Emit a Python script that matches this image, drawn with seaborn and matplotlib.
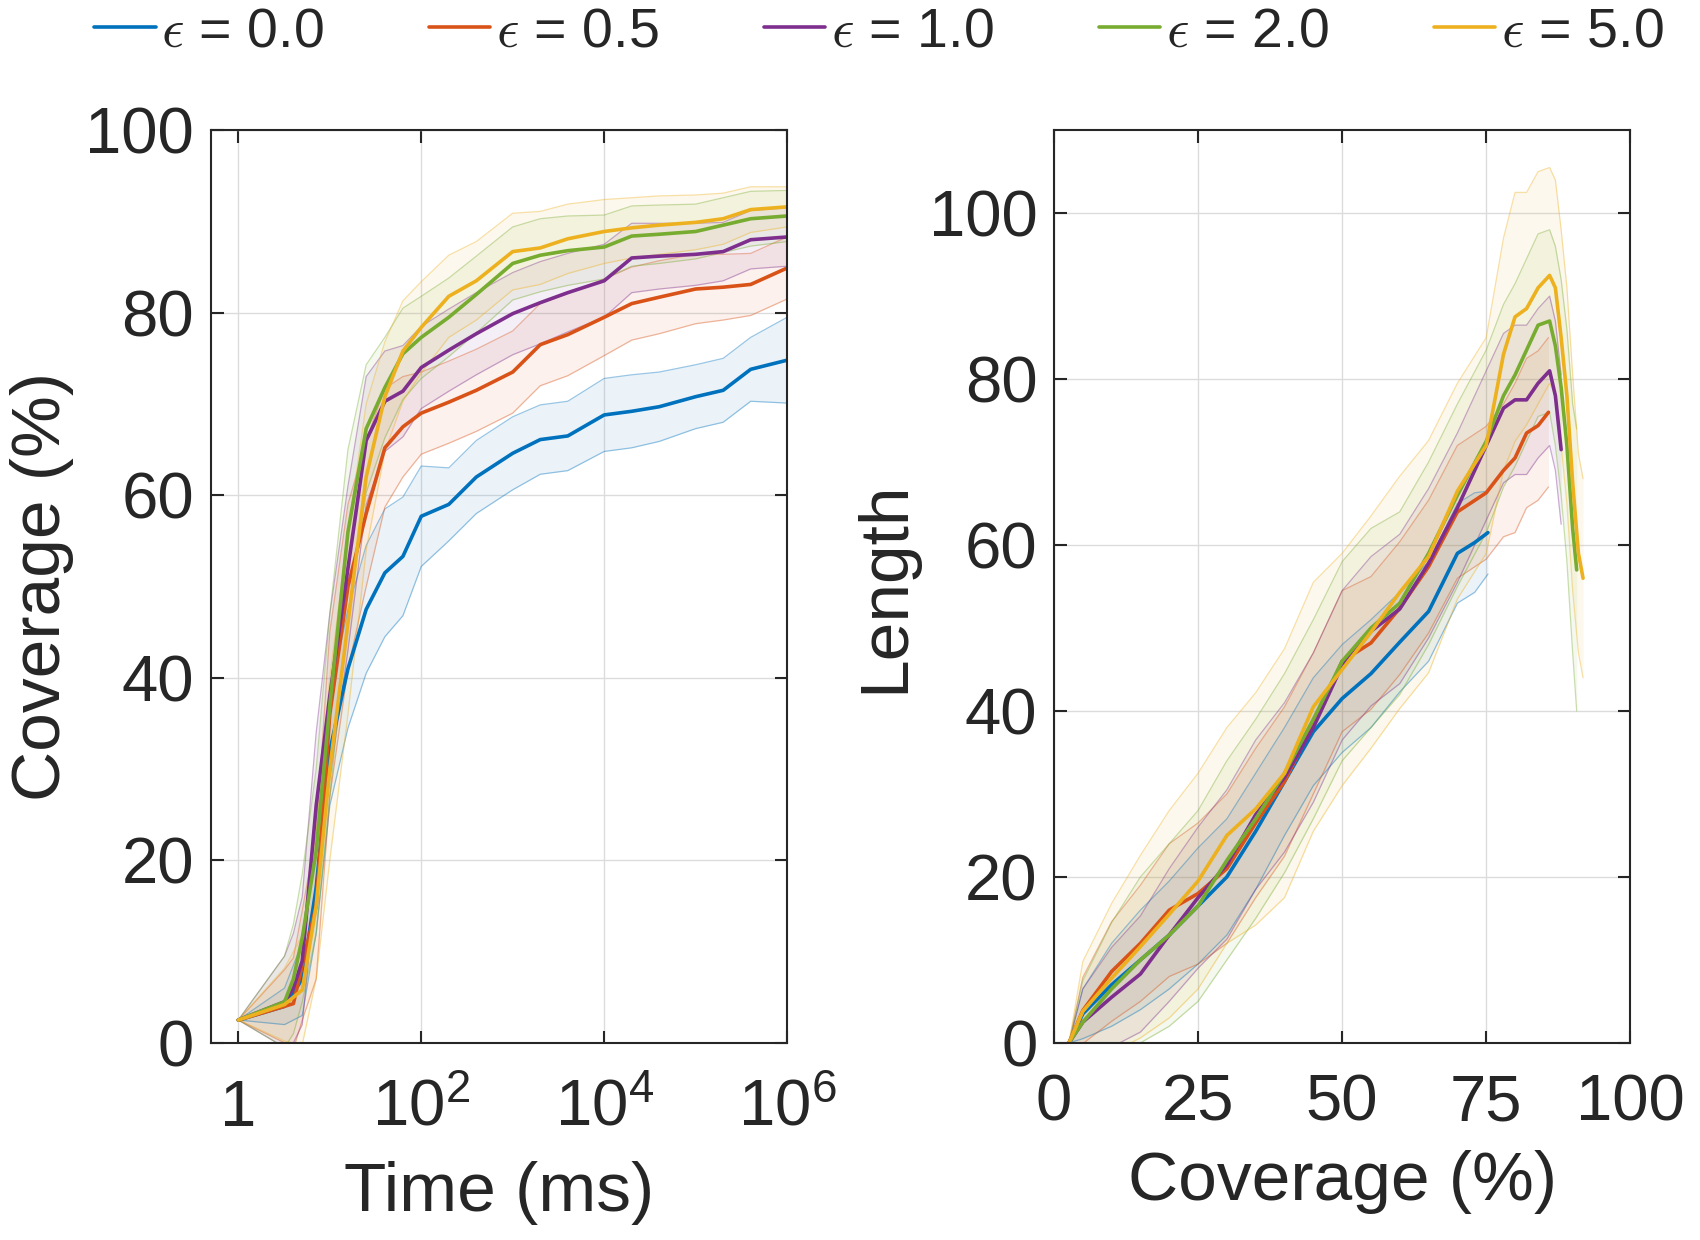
import numpy as np
import pandas as pd
import matplotlib
matplotlib.use('Agg')
import matplotlib.pyplot as plt
import seaborn as sns
from matplotlib.lines import Line2D
from matplotlib.ticker import NullLocator

# --- data ---
eps_labels = ['0.0', '0.5', '1.0', '2.0', '5.0']
colors = ['#0072BD', '#D95319', '#7E2F8E', '#77AC30', '#EDB120']

# left panel: coverage over time (ms), common time grid
time_ms = [1, 3.2, 4, 5, 7.1, 10, 15.8, 25, 40, 63, 100, 200, 400, 1000, 2000,
           4000, 1e4, 2e4, 4e4, 1e5, 2e5, 4e5, 1e6]
cov_mean = {
    '0.0': [2.5, 4, 5.5, 7, 17, 32, 41, 47.5, 51.5, 53.3, 57.7, 59, 62, 64.6, 66.1,
            66.5, 68.8, 69.2, 69.7, 70.8, 71.5, 73.8, 74.8],
    '0.5': [2.5, 4, 4.3, 8.5, 15, 36, 50, 58, 65.2, 67.5, 69, 70.2, 71.5, 73.5, 76.5,
            77.6, 79.5, 81, 81.7, 82.6, 82.8, 83.1, 84.9],
    '1.0': [2.5, 4.5, 6, 9, 26, 38, 52, 66, 70.3, 71.4, 74, 75.9, 77.7, 79.9, 81.1,
            82.2, 83.5, 86, 86.2, 86.4, 86.7, 88, 88.3],
    '2.0': [2.5, 4.5, 7, 11.5, 21, 37, 56, 67.3, 71.8, 75.5, 77.3, 79.5, 82, 85.4, 86.3,
            86.8, 87.2, 88.4, 88.6, 88.9, 89.6, 90.3, 90.6],
    '5.0': [2.5, 4.2, 5, 5.8, 15, 30, 46, 62, 70.8, 75.8, 78.4, 81.8, 83.5, 86.7, 87.1,
            88.1, 88.9, 89.3, 89.6, 89.9, 90.3, 91.3, 91.6],
}
cov_spread = {
    '0.0': [0, 2, 3, 4, 5, 6, 6.5, 7, 7, 6.5, 5.5, 4, 4, 4, 3.8, 3.8, 4, 4, 3.8, 3.5, 3.5, 3.5, 4.7],
    '0.5': [0, 4, 5, 6, 8, 9, 9, 8, 6.5, 5.5, 4.5, 4.5, 4.5, 4.5, 4.5, 4.5, 4.2, 4, 4, 3.8, 3.6, 3.4, 3.4],
    '1.0': [0, 5, 6, 7, 8, 9, 9, 7, 5.5, 5, 4.5, 4.5, 4.5, 4.5, 4.5, 4.3, 4, 3.8, 3.6, 3.4, 3.2, 3.2, 3.2],
    '2.0': [0, 5, 6, 7, 9, 10, 9, 7, 5.5, 5, 4.5, 4.3, 4.2, 4, 4, 3.8, 3.5, 3.3, 3.2, 3, 3, 3, 2.8],
    '5.0': [0, 4, 5, 6, 8, 10, 10, 8, 6, 5.5, 5, 4.5, 4.3, 4.2, 4, 3.8, 3.5, 3.3, 3.2, 3, 2.8, 2.5, 2.2],
}

# right panel: length over coverage (%)
len_cov = {
    '0.0': [2.6, 5, 10, 15, 20, 25, 30, 35, 40, 45, 50, 55, 60, 65, 70, 73, 75.3],
    '0.5': [2.6, 5, 10, 15, 20, 25, 30, 35, 40, 45, 50, 55, 60, 65, 70, 75, 78, 80, 82, 84, 85.8],
    '1.0': [2.6, 5, 10, 15, 20, 25, 30, 35, 40, 45, 50, 55, 60, 65, 70, 75, 78, 80, 82, 84, 86, 87, 88],
    '2.0': [2.6, 5, 10, 15, 20, 25, 30, 35, 40, 45, 50, 55, 60, 65, 70, 75, 78, 80, 82, 84, 86, 87,
            88, 89, 90, 90.7],
    '5.0': [2.6, 5, 10, 15, 20, 25, 30, 35, 40, 45, 50, 55, 60, 65, 70, 75, 78, 80, 82, 84, 86, 87,
            88, 89, 90, 91, 91.8],
}
len_mean = {
    '0.0': [0, 3.5, 7, 10, 13, 16.5, 20, 25.5, 31.5, 37.5, 41.5, 44.5, 48.3, 52, 59, 60.3, 61.5],
    '0.5': [0, 3.9, 8.6, 12, 16, 18, 21, 26.5, 31.5, 38.5, 46, 48.2, 52.4, 57.4, 64, 66.3, 69,
            70.5, 73.5, 74.4, 76],
    '1.0': [0, 2.5, 5.5, 8.3, 13, 17.5, 21.5, 27.5, 32, 38, 45.5, 49.6, 52.3, 57.8, 64.5, 72,
            76.5, 77.5, 77.5, 79.5, 81, 78, 71.5],
    '2.0': [0, 2.5, 6.5, 10, 13, 16.5, 22, 27, 32.5, 39, 46, 50, 53, 59, 66, 72.5, 78, 80.5,
            83.5, 86.5, 87, 84, 79, 72, 62, 57],
    '5.0': [0, 3.8, 7.8, 11.6, 15.5, 19.5, 25, 28.2, 32.5, 40.5, 45, 49.5, 54.3, 58.6, 66.5, 72,
            83, 87.5, 88.5, 91, 92.5, 91, 85, 78, 67.5, 59, 56],
}
len_spread = {
    '0.0': [0, 3, 5, 6, 6.5, 7, 7, 7, 6.5, 6.5, 6.5, 6.5, 6, 6, 6, 6, 5],
    '0.5': [0, 4, 6, 7, 8, 8.5, 9, 9, 9, 8.5, 8.5, 8, 8, 8, 8, 8, 8, 9, 9, 9, 9],
    '1.0': [0, 4, 6, 7, 8, 8.5, 9, 9, 9, 9, 9, 9, 9, 9, 9, 9, 9, 9, 9, 9, 9, 9, 9],
    '2.0': [0, 5, 8, 10, 11, 11.5, 12, 12, 12, 12, 12, 12, 11, 11, 11, 11, 11, 11, 11, 11, 11,
            12, 13, 14, 15, 17],
    '5.0': [0, 6, 9, 11, 12.5, 13, 13, 14, 15, 15, 14, 14, 14, 14, 13, 13, 14, 15, 14, 14, 13,
            13, 13, 13, 13, 12, 12],
}

# --- long tables for seaborn ---
left_rows = []
right_rows = []
for e in eps_labels:
    for t, m in zip(time_ms, cov_mean[e]):
        left_rows.append({'eps': e, 'time': t, 'cov': m})
    for c, m in zip(len_cov[e], len_mean[e]):
        right_rows.append({'eps': e, 'cov': c, 'len': m})
df_left = pd.DataFrame(left_rows)
df_right = pd.DataFrame(right_rows)
palette = dict(zip(eps_labels, colors))

sns.set_theme(style='whitegrid')
plt.rcParams['font.family'] = ['Liberation Sans', 'DejaVu Sans']
plt.rcParams['mathtext.fontset'] = 'cm'
dark = '#262626'

fig = plt.figure(figsize=(17, 12.4), dpi=100)
ax1 = fig.add_axes([0.124, 0.159, 0.339, 0.736])
ax2 = fig.add_axes([0.62, 0.159, 0.339, 0.736])

# bands first
for e, col in zip(eps_labels, colors):
    m = np.array(cov_mean[e]); s = np.array(cov_spread[e])
    ax1.fill_between(time_ms, m - s, m + s, color=col, alpha=0.08, lw=0)
    ax1.plot(time_ms, m - s, color=col, alpha=0.4, lw=0.9)
    ax1.plot(time_ms, m + s, color=col, alpha=0.4, lw=0.9)
    m = np.array(len_mean[e]); s = np.array(len_spread[e])
    ax2.fill_between(len_cov[e], m - s, m + s, color=col, alpha=0.08, lw=0)
    ax2.plot(len_cov[e], m - s, color=col, alpha=0.4, lw=0.9)
    ax2.plot(len_cov[e], m + s, color=col, alpha=0.4, lw=0.9)

sns.lineplot(data=df_left, x='time', y='cov', hue='eps', palette=palette, estimator=None,
             sort=False, lw=2.6, legend=False, ax=ax1)
sns.lineplot(data=df_right, x='cov', y='len', hue='eps', palette=palette, estimator=None,
             sort=False, lw=2.6, legend=False, ax=ax2)

ax1.set_xscale('log')
ax1.set_xlim(0.5, 1e6)
ax1.set_ylim(0, 100)
ax1.set_xticks([1, 1e2, 1e4, 1e6])
ax1.set_xticklabels(['1', r'$\mathdefault{10^{2}}$', r'$\mathdefault{10^{4}}$', r'$\mathdefault{10^{6}}$'])
ax1.xaxis.set_minor_locator(NullLocator())
ax1.set_yticks([0, 20, 40, 60, 80, 100])
ax1.set_xlabel('Time (ms)', fontsize=50, color=dark, labelpad=16)
ax1.set_ylabel('Coverage (%)', fontsize=50, color=dark, labelpad=8)

ax2.set_xlim(0, 100)
ax2.set_ylim(0, 110)
ax2.set_xticks([0, 25, 50, 75, 100])
ax2.set_yticks([0, 20, 40, 60, 80, 100])
ax2.set_xlabel('Coverage (%)', fontsize=50, color=dark, labelpad=12)
ax2.set_ylabel('Length', fontsize=50, color=dark, labelpad=8)

for ax in (ax1, ax2):
    ax.grid(True, color='#dcdcdc', lw=1.0)
    ax.set_facecolor('white')
    for sp in ax.spines.values():
        sp.set_color(dark)
        sp.set_linewidth(1.5)
    ax.tick_params(axis='both', which='major', direction='in', length=9, width=1.5,
                   top=True, right=True, bottom=True, left=True, labelsize=47,
                   colors=dark, pad=12)
ax1.tick_params(axis='x', pad=26)
ax2.tick_params(axis='x', pad=22)

handles = [Line2D([0], [0], color=c, lw=2.6) for c in colors]
labels = [r'$\epsilon$ = ' + e for e in eps_labels]
fig.legend(handles, labels, loc='center', bbox_to_anchor=(0.517, 0.974), ncol=5,
           frameon=False, fontsize=40, handlelength=1.1, handletextpad=0.1,
           columnspacing=1.9, labelcolor=dark)

fig.savefig('out.png', dpi=100, facecolor='white')
